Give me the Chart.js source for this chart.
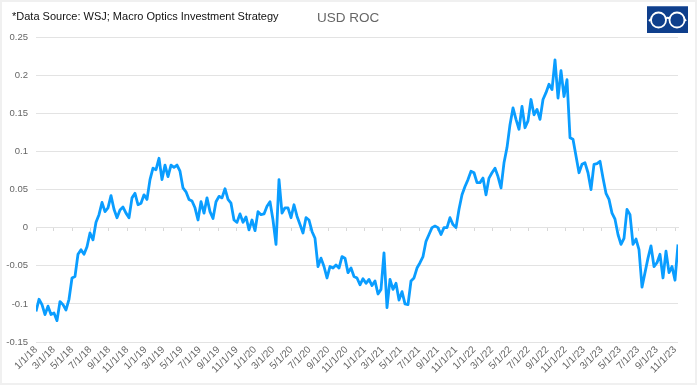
<!DOCTYPE html>
<html>
<head>
<meta charset="utf-8">
<title>USD ROC</title>
<script src="https://cdn.jsdelivr.net/npm/chart.js@4"></script>
<style>
  html, body { margin: 0; padding: 0; background: #f0f0f0; overflow: hidden; }
  #frame { position: absolute; left: 2px; top: 2px; width: 693px; height: 381px; background: #fff; }
  canvas { position: absolute; left: 0; top: 0; }
  .note { position: absolute; font-family: "Liberation Sans", Arial, sans-serif; white-space: nowrap; }
  #source { left: 12px; top: 10px; font-size: 11px; color: #111; }
  #heading { left: 317px; top: 10px; font-size: 13.5px; color: #666; }
  #logo { position: absolute; left: 647px; top: 6px; }
</style>
</head>
<body>
<div id="frame"></div>
<canvas id="roc" width="697" height="385"></canvas>
<div class="note" id="source">*Data Source: WSJ; Macro Optics Investment Strategy</div>
<div class="note" id="heading">USD ROC</div>
<svg id="logo" width="41" height="27" viewBox="0 0 41 27">
  <rect width="41" height="27" fill="#0f3f8c"/>
  <rect width="41" height="1" fill="#4a70ad"/>
  <g fill="none" stroke="#fff" stroke-width="1.8">
    <circle cx="11.5" cy="14" r="7.5"/>
    <circle cx="30" cy="14" r="7.5"/>
    <path d="M19 12.5 Q20.7 11 22.5 12.5"/>
    <path d="M4 13 L2 15"/>
    <path d="M37.5 13 L39 15"/>
  </g>
</svg>
<script>
// one reading every 10 days from 1/1/18
const stepDays = 10;
const rocValues = [
  -0.110,-0.094,-0.101,-0.114,-0.103,-0.114,-0.112,-0.122,-0.097,-0.101,
  -0.108,-0.094,-0.066,-0.064,-0.035,-0.029,-0.035,-0.025,-0.007,-0.016,
  0.007,0.017,0.033,0.021,0.026,0.042,0.024,0.013,0.023,0.027,
  0.019,0.013,0.039,0.045,0.030,0.032,0.043,0.037,0.063,0.078,
  0.076,0.091,0.063,0.082,0.067,0.082,0.079,0.082,0.074,0.052,
  0.047,0.037,0.035,0.026,0.010,0.034,0.019,0.039,0.021,0.012,
  0.034,0.041,0.039,0.051,0.037,0.032,0.010,0.007,0.018,0.007,
  0.014,-0.003,0.010,-0.004,0.021,0.017,0.018,0.028,0.034,0.010,
  -0.022,0.063,0.019,0.026,0.026,0.013,0.030,0.015,0.004,-0.007,
  0.013,0.010,-0.005,-0.014,-0.051,-0.040,-0.051,-0.066,-0.051,-0.053,
  -0.049,-0.053,-0.038,-0.040,-0.059,-0.053,-0.064,-0.066,-0.075,-0.067,
  -0.073,-0.068,-0.076,-0.070,-0.087,-0.081,-0.033,-0.105,-0.068,-0.081,
  -0.073,-0.095,-0.084,-0.100,-0.101,-0.070,-0.066,-0.053,-0.046,-0.038,
  -0.018,-0.009,0.000,0.002,0.000,-0.009,0.000,0.000,0.013,0.004,
  0.000,0.024,0.043,0.054,0.063,0.074,0.072,0.059,0.059,0.065,
  0.043,0.065,0.072,0.078,0.067,0.052,0.085,0.105,0.135,0.157,
  0.142,0.129,0.159,0.131,0.140,0.168,0.148,0.155,0.142,0.168,
  0.177,0.188,0.181,0.220,0.170,0.206,0.172,0.194,0.118,0.116,
  0.094,0.072,0.083,0.085,0.072,0.050,0.083,0.084,0.087,0.065,
  0.045,0.037,0.019,0.011,-0.009,-0.022,-0.014,0.024,0.017,-0.022,
  -0.015,-0.029,-0.078,-0.059,-0.040,-0.024,-0.051,-0.046,-0.035,-0.066,
  -0.031,-0.059,-0.051,-0.069,-0.022
];
const tickLabels = [
  '1/1/18','3/1/18','5/1/18','7/1/18','9/1/18','11/1/18',
  '1/1/19','3/1/19','5/1/19','7/1/19','9/1/19','11/1/19',
  '1/1/20','3/1/20','5/1/20','7/1/20','9/1/20','11/1/20',
  '1/1/21','3/1/21','5/1/21','7/1/21','9/1/21','11/1/21',
  '1/1/22','3/1/22','5/1/22','7/1/22','9/1/22','11/1/22',
  '1/1/23','3/1/23','5/1/23','7/1/23','9/1/23','11/1/23'
];

const DAY = 86400000;
const start = Date.UTC(2018, 0, 1);
function dayOf(label) {
  const p = label.split('/');
  return (Date.UTC(2000 + Number(p[2]), p[0] - 1, Number(p[1])) - start) / DAY;
}
const points = rocValues.map((v, i) => ({ x: i * stepDays, y: v }));
const lastDay = (rocValues.length - 1) * stepDays;
const setDateTicks = scale => { scale.ticks = tickLabels.map(l => ({ value: dayOf(l) })); };

const ctx = document.getElementById('roc').getContext('2d');
new Chart(ctx, {
  type: 'line',
  data: {
    datasets: [{
      label: 'USD ROC',
      data: points,
      borderColor: '#0a9dff',
      borderWidth: 2.8,
      pointRadius: 0,
      tension: 0,
      fill: false,
      borderJoinStyle: 'round'
    }]
  },
  options: {
    responsive: false,
    animation: false,
    layout: { padding: { top: 37, right: 19, bottom: 0, left: 0 } },
    scales: {
      x: {
        type: 'linear',
        min: 0,
        max: lastDay,
        afterBuildTicks: setDateTicks,
        afterFit: s => { s.height = 43; },
        grid: { display: false, drawTicks: false },
        border: { display: false },
        ticks: {
          autoSkip: false,
          minRotation: 45,
          maxRotation: 45,
          padding: 2,
          color: '#666',
          font: { family: '"Liberation Sans", Arial, sans-serif', size: 10 },
          callback: (v, i) => tickLabels[i]
        }
      },
      // tick marks sitting on the zero line
      xZero: {
        type: 'linear',
        axis: 'x',
        position: { y: 0 },
        min: 0,
        max: lastDay,
        afterBuildTicks: setDateTicks,
        border: { color: '#e2e2e2', width: 1 },
        grid: { drawOnChartArea: false, color: '#d8d8d8', tickLength: 3 },
        ticks: { display: false }
      },
      y: {
        min: -0.15,
        max: 0.25,
        afterFit: s => { s.width = 36; },
        afterBuildTicks: s => {
          s.ticks = [-0.15, -0.1, -0.05, 0, 0.05, 0.1, 0.15, 0.2, 0.25].map(v => ({ value: v }));
        },
        grid: { color: '#e3e3e3', lineWidth: 1, drawTicks: false },
        border: { display: false },
        ticks: {
          padding: 8,
          color: '#666',
          font: { family: '"Liberation Sans", Arial, sans-serif', size: 9.5 },
          callback: v => String(Number(v.toFixed(2)))
        }
      }
    },
    plugins: {
      legend: { display: false },
      tooltip: { enabled: false }
    }
  }
});
</script>
</body>
</html>
